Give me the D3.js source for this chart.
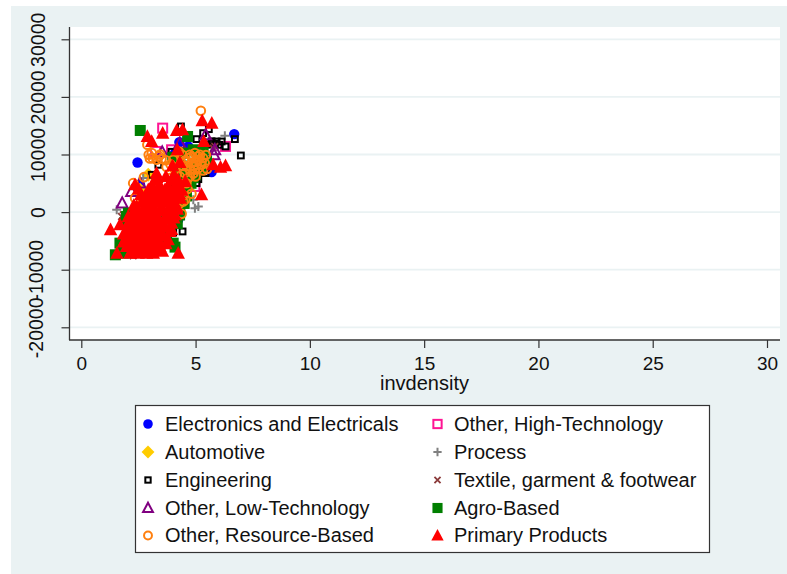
<!DOCTYPE html>
<html><head><meta charset="utf-8">
<script src="https://cdn.jsdelivr.net/npm/d3@7"></script>
<style>html,body{margin:0;padding:0;background:#fff}svg{display:block}text{font-family:"Liberation Sans",Arial,sans-serif;fill:#111}</style>
</head><body><svg id="c" width="787" height="574"></svg>
<script>
const xTicks=[0,5,10,15,20,25,30];
const yTicks=[-20000,-10000,0,10000,20000,30000];
const xTitle="invdensity";
const electronics=[[6.69,13540],[2.46,8620],[4.29,12150],[4.68,11400],[5.70,6940],[4.24,-1340],[2.57,4740],[4.10,10240]];
const highTech=[[3.56,14580],[6.31,11400],[3.25,10530],[3.95,10820],[4.97,4450]];
const automotive=[[2.93,6480],[2.57,3870]];
const processInd=[[6.28,13250],[1.55,400],[5.12,980],[4.97,690],[4.90,2140],[2.71,5900]];
const engineering=[[4.36,14870],[5.58,14400],[5.33,13710],[5.04,12670],[5.92,12260],[6.14,12260],[6.72,12670],[6.31,11400],[6.98,9830],[3.95,10470],[3.37,8210],[3.08,6480],[4.43,-3360],[4.02,-3540],[5.12,5720],[5.04,5030],[5.44,6770],[5.70,11970],[6.03,11680],[5.70,12300],[5.50,11700],[5.85,11900]];
const textile=[[1.76,-760],[2.27,-7590],[5.84,11400],[5.77,11100],[1.84,-470]];
const lowTech=[[1.79,1560],[2.20,3580],[3.54,10410],[5.44,13420],[5.81,9950],[4.31,11970],[2.57,5030],[5.84,10820]];
const agro=[[2.58,14170],[4.65,13130],[4.53,10240],[4.90,10820],[5.33,10530],[4.31,8500],[4.68,7340],[5.19,7340],[5.48,8790],[4.24,6190],[4.61,5610],[4.10,4450],[3.88,3290],[4.17,2140],[4.31,980],[3.73,-760],[3.44,-1910],[2.06,-180],[1.98,-760],[1.91,-1910],[3.88,-3070],[3.44,-3650],[3.73,-4230],[2.57,-3070],[1.69,-5390],[4.02,-5390],[4.10,-6080],[3.44,-5680],[1.49,-7410],[1.84,-7120],[5.00,6500],[5.30,8000],[4.80,5000],[4.50,4000],[4.60,2800],[4.50,1500],[4.30,-500],[4.20,-2000],[4.40,8000],[4.90,6000],[4.00,9500],[5.10,9000]];
const resource=[[5.23,17590],[2.89,11680],[3.12,9370],[3.51,9200],[3.29,9080],[4.02,9080],[3.73,7810],[4.27,10530],[2.74,6070],[2.27,5030],[2.35,2430],[4.82,3180],[4.46,1850],[4.39,-300],[5.33,7230],[4.75,9950],[4.97,10240],[5.19,9950],[4.68,9370],[4.90,9370],[5.12,9080],[5.33,9370],[4.82,8500],[5.04,8210],[5.26,8210],[4.61,7920],[4.75,7340],[4.97,7340],[4.53,6770],[4.68,5900],[4.17,6480],[3.88,5900],[4.31,6190],[4.10,7340],[3.08,10240],[4.82,9660],[5.12,9660],[5.26,8790],[4.61,8790],[4.90,7920],[5.12,7630],[5.40,8500],[3.40,9700],[3.00,9300],[2.95,9950],[4.75,6200],[4.90,6700],[4.46,2900],[4.30,1500],[4.45,8000],[4.55,9000],[4.40,10000],[5.00,8700],[5.45,9900],[5.00,6200],[4.60,5000],[4.65,4000],[4.55,2200],[3.70,9000],[3.90,8300],[3.45,10000],[5.50,7500]];
const primary=[[5.29,15850],[5.71,15450],[2.89,13130],[3.08,12260],[3.56,13710],[4.17,14170],[4.43,14290],[5.36,12260],[4.20,10820],[3.99,8040],[4.31,8620],[5.77,8210],[6.09,7810],[6.31,8040],[5.26,3000],[3.29,6770],[2.35,4740],[1.28,-3070],[1.69,-2200],[1.56,-7120],[4.24,-7120],
[3.29,5610],[3.95,5610],[4.24,5610],[3.30,6000],[3.70,6200],[4.05,6500],[4.55,5300],
[3.08,4620],[3.44,4620],[3.80,4620],[4.17,4620],
[2.93,3870],[3.29,3870],[3.66,3870],[4.02,3870],[4.34,3870],[4.40,3800],[2.50,4000],
[2.89,3170],[3.22,3170],[3.58,3170],[3.95,3170],[4.29,3170],[2.60,3000],
[2.79,2430],[3.15,2430],[3.51,2430],[3.88,2430],[4.20,2430],[4.34,2400],
[2.64,1730],[2.97,1730],[3.32,1730],[3.70,1730],[4.05,1730],[2.30,1200],
[2.42,980],[2.79,980],[3.15,980],[3.51,980],[3.88,980],[4.17,980],[4.20,500],
[2.35,280],[2.71,280],[3.08,280],[3.44,280],[3.80,280],
[2.20,-470],[2.57,-470],[2.93,-470],[3.29,-470],[3.73,-470],[4.10,-470],[2.05,-800],[4.05,-1000],
[2.16,-1160],[2.57,-1160],[2.93,-1160],[3.37,-1160],[3.73,-1160],
[2.06,-1910],[2.42,-1910],[2.79,-1910],[3.15,-1910],[3.51,-1910],[3.95,-1910],
[2.20,-2610],[2.57,-2610],[2.93,-2610],[3.29,-2610],[3.66,-2610],
[1.98,-3360],[2.35,-3360],[2.71,-3360],[3.08,-3360],[3.44,-3360],[3.88,-3360],[3.95,-3000],[1.85,-3800],
[2.10,-4060],[2.49,-4060],[2.86,-4060],[3.22,-4060],[3.58,-4060],
[1.91,-4810],[2.27,-4810],[2.64,-4810],[3.00,-4810],[3.37,-4810],[3.80,-4810],[1.85,-5200],
[2.16,-5390],[2.54,-5390],[2.89,-5390],[3.27,-5390],[3.70,-5500],
[1.98,-5970],[2.35,-5970],[2.71,-5970],[3.08,-5970],[3.44,-5970],
[2.30,-6550],[2.68,-6550],[3.00,-6550],[3.29,-6550],[3.55,-6800],
[2.13,-7120],[2.49,-7120],[2.86,-7120],[3.15,-7120]];

const series=[
 {name:"Electronics and Electricals",data:electronics,kind:"circle",color:"#0000ff",col:0,row:0},
 {name:"Other, High-Technology",data:highTech,kind:"squareO",color:"#ff1493",col:1,row:0},
 {name:"Automotive",data:automotive,kind:"diamond",color:"#ffcc00",col:0,row:1},
 {name:"Process",data:processInd,kind:"plus",color:"#808080",col:1,row:1},
 {name:"Engineering",data:engineering,kind:"squareS",color:"#000000",col:0,row:2},
 {name:"Textile, garment & footwear",data:textile,kind:"cross",color:"#8b3a3a",col:1,row:2},
 {name:"Other, Low-Technology",data:lowTech,kind:"triO",color:"#800080",col:0,row:3},
 {name:"Agro-Based",data:agro,kind:"square",color:"#007f00",col:1,row:3},
 {name:"Other, Resource-Based",data:resource,kind:"circleO",color:"#ff7f0e",col:0,row:4},
 {name:"Primary Products",data:primary,kind:"tri",color:"#ff0000",col:1,row:4}
];

const svg=d3.select("#c");
const x=d3.scaleLinear().domain([0,30]).range([81.3,767]);
const y=d3.scaleLinear().domain([-20000,30000]).range([327.3,39.3]);
const bg="#eaf2f3";
svg.append("rect").attr("x",11).attr("y",6).attr("width",776).attr("height",568).attr("fill",bg);
svg.append("rect").attr("x",69.5).attr("y",27).attr("width",710.5).attr("height",313).attr("fill","#fff");
svg.append("g").selectAll("line").data(yTicks).join("line")
 .attr("x1",70).attr("x2",780).attr("y1",d=>y(d)).attr("y2",d=>y(d)).attr("stroke",bg).attr("stroke-width",1.8);

const gy=svg.append("g").attr("transform","translate(69.5,0)")
 .call(d3.axisLeft(y).tickValues(yTicks).tickFormat(d=>String(d)).tickSize(8).tickPadding(0));
gy.select(".domain").attr("d","M0,27V340").attr("stroke","#333").attr("stroke-width",1.3);
gy.selectAll(".tick line").attr("stroke","#333").attr("stroke-width",1.2);
gy.selectAll(".tick text").attr("font-size",19.5).attr("text-anchor","middle").attr("dy",0).attr("x",0).attr("y",0)
 .attr("transform",d=>`translate(${d<0?-26.5:-24.5},0) rotate(-90)`);

const gx=svg.append("g").attr("transform","translate(0,340)")
 .call(d3.axisBottom(x).tickValues(xTicks).tickFormat(d=>String(d)).tickSize(8).tickPadding(0));
gx.select(".domain").attr("d","M69,0H780").attr("stroke","#333").attr("stroke-width",1.3);
gx.selectAll(".tick line").attr("stroke","#333").attr("stroke-width",1.2);
gx.selectAll(".tick text").attr("font-size",19).attr("dy",0).attr("y",29.5);
svg.append("text").attr("x",424.5).attr("y",390).attr("text-anchor","middle").attr("font-size",20).text(xTitle);

function marker(sel,kind,color,k){
 k=k||1;
 const tri=(s)=>`M0,${-s*0.6}L${s*0.56},${s*0.46}L${-s*0.56},${s*0.46}Z`;
 if(kind==="circle")sel.append("circle").attr("r",5.2*k).attr("fill",color);
 if(kind==="circleO")sel.append("circle").attr("r",4.3*k).attr("fill","none").attr("stroke",color).attr("stroke-width",2);
 if(kind==="square")sel.append("rect").attr("x",-5.5*k).attr("y",-5.5*k).attr("width",11*k).attr("height",11*k).attr("fill",color);
 if(kind==="squareO")sel.append("rect").attr("x",-4.5*k).attr("y",-4.5*k).attr("width",9*k).attr("height",9*k).attr("fill","none").attr("stroke",color).attr("stroke-width",2);
 if(kind==="squareS")sel.append("rect").attr("x",-2.9*k).attr("y",-2.9*k).attr("width",5.8*k).attr("height",5.8*k).attr("fill","none").attr("stroke",color).attr("stroke-width",2);
 if(kind==="diamond")sel.append("path").attr("d",`M0,${-7*k}L${7*k},0L0,${7*k}L${-7*k},0Z`).attr("fill",color);
 if(kind==="tri")sel.append("path").attr("d",tri(12*k)).attr("fill",color);
 if(kind==="triO")sel.append("path").attr("d",tri(9.6*k)).attr("fill","none").attr("stroke",color).attr("stroke-width",2);
 if(kind==="plus")sel.append("path").attr("d",`M${-4.5*k},0H${4.5*k}M0,${-4.5*k}V${4.5*k}`).attr("stroke",color).attr("stroke-width",2).attr("fill","none");
 if(kind==="cross")sel.append("path").attr("d",`M${-3.3*k},${-3.3*k}L${3.3*k},${3.3*k}M${-3.3*k},${3.3*k}L${3.3*k},${-3.3*k}`).attr("stroke",color).attr("stroke-width",1.8).attr("fill","none");
}
series.forEach(s=>{
 const g=svg.append("g").attr("class","series");
 s.data.forEach(d=>{
  const m=g.append("g").attr("transform",`translate(${x(d[0])},${y(d[1])})`);
  marker(m,s.kind,s.color);
 });
});

svg.append("rect").attr("x",135.5).attr("y",405.5).attr("width",574).attr("height",147).attr("fill","#fff").attr("stroke","#333").attr("stroke-width",1.2);
const colX=[148,437.5],txtX=[165,454],rowY=[424,452,480,508,535.5];
series.forEach(s=>{
 const m=svg.append("g").attr("transform",`translate(${colX[s.col]},${rowY[s.row]})`);
 marker(m,s.kind,s.color,0.92);
 svg.append("text").attr("x",txtX[s.col]).attr("y",rowY[s.row]+6.8).attr("font-size",20).text(s.name);
});
</script></body></html>
